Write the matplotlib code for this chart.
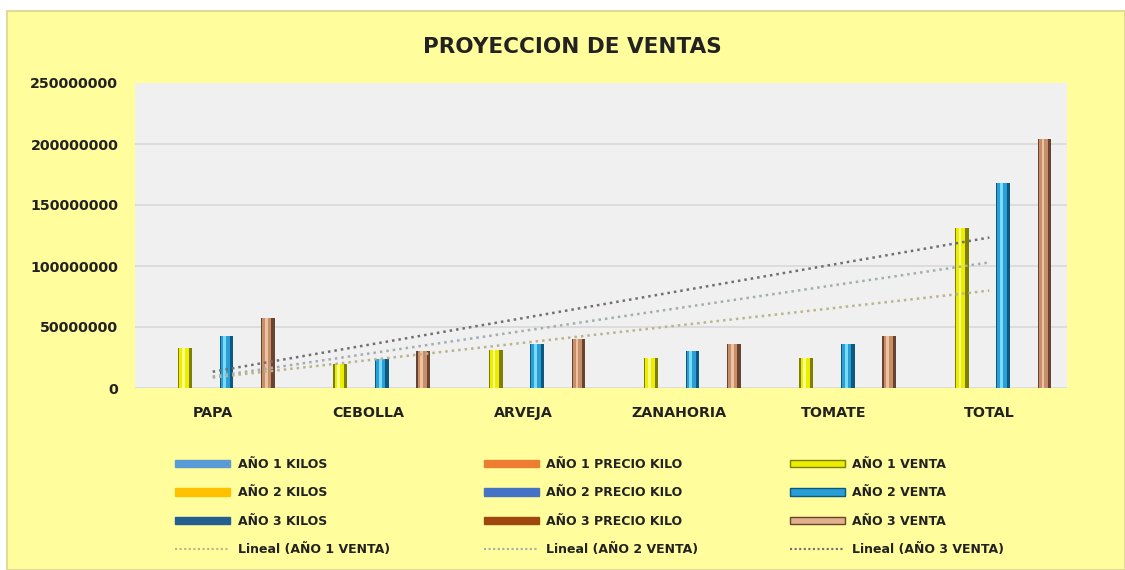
import numpy as np
import matplotlib
matplotlib.use("Agg")
import matplotlib.pyplot as plt
from matplotlib.patches import Rectangle, Patch
from matplotlib.lines import Line2D

# data (pesos)
categorias = ["PAPA", "CEBOLLA", "ARVEJA", "ZANAHORIA", "TOMATE", "TOTAL"]
venta_a1 = [33e6, 20e6, 31e6, 25e6, 25e6, 131e6]
venta_a2 = [43e6, 24e6, 36e6, 30e6, 36e6, 168e6]
venta_a3 = [57e6, 30e6, 40e6, 36e6, 43e6, 204e6]
y_ticks = [0, 50000000, 100000000, 150000000, 200000000, 250000000]

plt.rcParams['font.family'] = ['DejaVu Sans']
txt = '#222222'

fig = plt.figure(figsize=(11.25, 5.7), dpi=100)
fig.patch.set_facecolor('white')
fig.patches.append(Rectangle((7/1125, 0), 1 - 7/1125, 1 - 11/570, transform=fig.transFigure,
                             facecolor='#FFFD9C', edgecolor='#E3DA9A', linewidth=1.5, zorder=-10))

ax = fig.add_axes([135/1125, 1 - 388/570, 932/1125, 305/570])
ax.set_facecolor('#F0F0F0')
for s in ax.spines.values():
    s.set_visible(False)

x = np.arange(len(categorias))
w = 0.0889

# cylinder-ish bars: dark body, main colour, highlight
series = [
    (venta_a1, -2, '#7E7E00', '#EDED00', '#FFFF8C'),
    (venta_a2, 1, '#0C587E', '#2A9FD6', '#7BDBFF'),
    (venta_a3, 4, '#6A4230', '#C78F69', '#EDC2A2'),
]
for vals, off, dark, main, hi in series:
    pos = x + off * w
    ax.bar(pos, vals, width=w, color=dark, zorder=3)
    ax.bar(pos - w * 0.08, vals, width=w * 0.66, color=main, zorder=4)
    ax.bar(pos - w * 0.12, vals, width=w * 0.2, color=hi, zorder=5)

# linear trendlines (Excel "Lineal")
trend_cols = ['#B9B48A', '#A3ADB0', '#6F6F6F']
for vals, c in zip([venta_a1, venta_a2, venta_a3], trend_cols):
    m, b = np.polyfit(x, vals, 1)
    ax.plot(x, m * x + b, linestyle=(0, (1, 1.6)), color=c, linewidth=1.8, zorder=6)

ax.set_xlim(-0.5, 5.5)
ax.set_ylim(0, 250000000)
ax.set_yticks(y_ticks)
ax.set_yticklabels([str(v) for v in y_ticks], fontsize=10.3, fontweight='bold', color=txt)
ax.set_xticks(x)
ax.set_xticklabels(categorias, fontsize=10.3, fontweight='bold', color=txt)
ax.tick_params(length=0, axis='y', pad=12)
ax.tick_params(length=0, axis='x', pad=13)
ax.yaxis.grid(True, color='#D9D9D9', linewidth=1.2, zorder=0)
ax.set_axisbelow(True)
ax.get_ygridlines()[-1].set_visible(False)

fig.text(572/1125, 1 - 47/570, "PROYECCION DE VENTAS", ha='center', va='center',
         fontsize=15.5, fontweight='bold', color=txt)

# legend, three columns placed one by one
col1 = [Patch(color='#5B9BD5'), Patch(color='#FFC000'), Patch(color='#255E91'),
        Line2D([], [], color=trend_cols[0], linestyle=(0, (1, 1.2)), linewidth=1.5)]
lab1 = ["AÑO 1 KILOS", "AÑO 2 KILOS", "AÑO 3 KILOS", "Lineal (AÑO 1 VENTA)"]
col2 = [Patch(color='#ED7D31'), Patch(color='#4472C4'), Patch(color='#9E480E'),
        Line2D([], [], color=trend_cols[1], linestyle=(0, (1, 1.2)), linewidth=1.5)]
lab2 = ["AÑO 1 PRECIO KILO", "AÑO 2 PRECIO KILO", "AÑO 3 PRECIO KILO", "Lineal (AÑO 2 VENTA)"]
col3 = [Patch(facecolor='#EDED00', edgecolor='#7E7E00'), Patch(facecolor='#2A9FD6', edgecolor='#0C587E'),
        Patch(facecolor='#E2B08C', edgecolor='#6A4230'),
        Line2D([], [], color=trend_cols[2], linestyle=(0, (1, 1.2)), linewidth=1.5)]
lab3 = ["AÑO 1 VENTA", "AÑO 2 VENTA", "AÑO 3 VENTA", "Lineal (AÑO 3 VENTA)"]

for hs, ls, xl in [(col1, lab1, 175), (col2, lab2, 484), (col3, lab3, 790)]:
    leg = fig.legend(hs, ls, loc='upper left', bbox_to_anchor=(xl/1125, 1 - 458/570),
                     frameon=False, borderpad=0, borderaxespad=0, handlelength=4.4,
                     handleheight=0.55, handletextpad=0.6, labelspacing=1.24,
                     prop={'weight': 'bold', 'size': 9})
    for t in leg.get_texts():
        t.set_color(txt)

fig.savefig("out.png", dpi=100, facecolor=fig.get_facecolor())
